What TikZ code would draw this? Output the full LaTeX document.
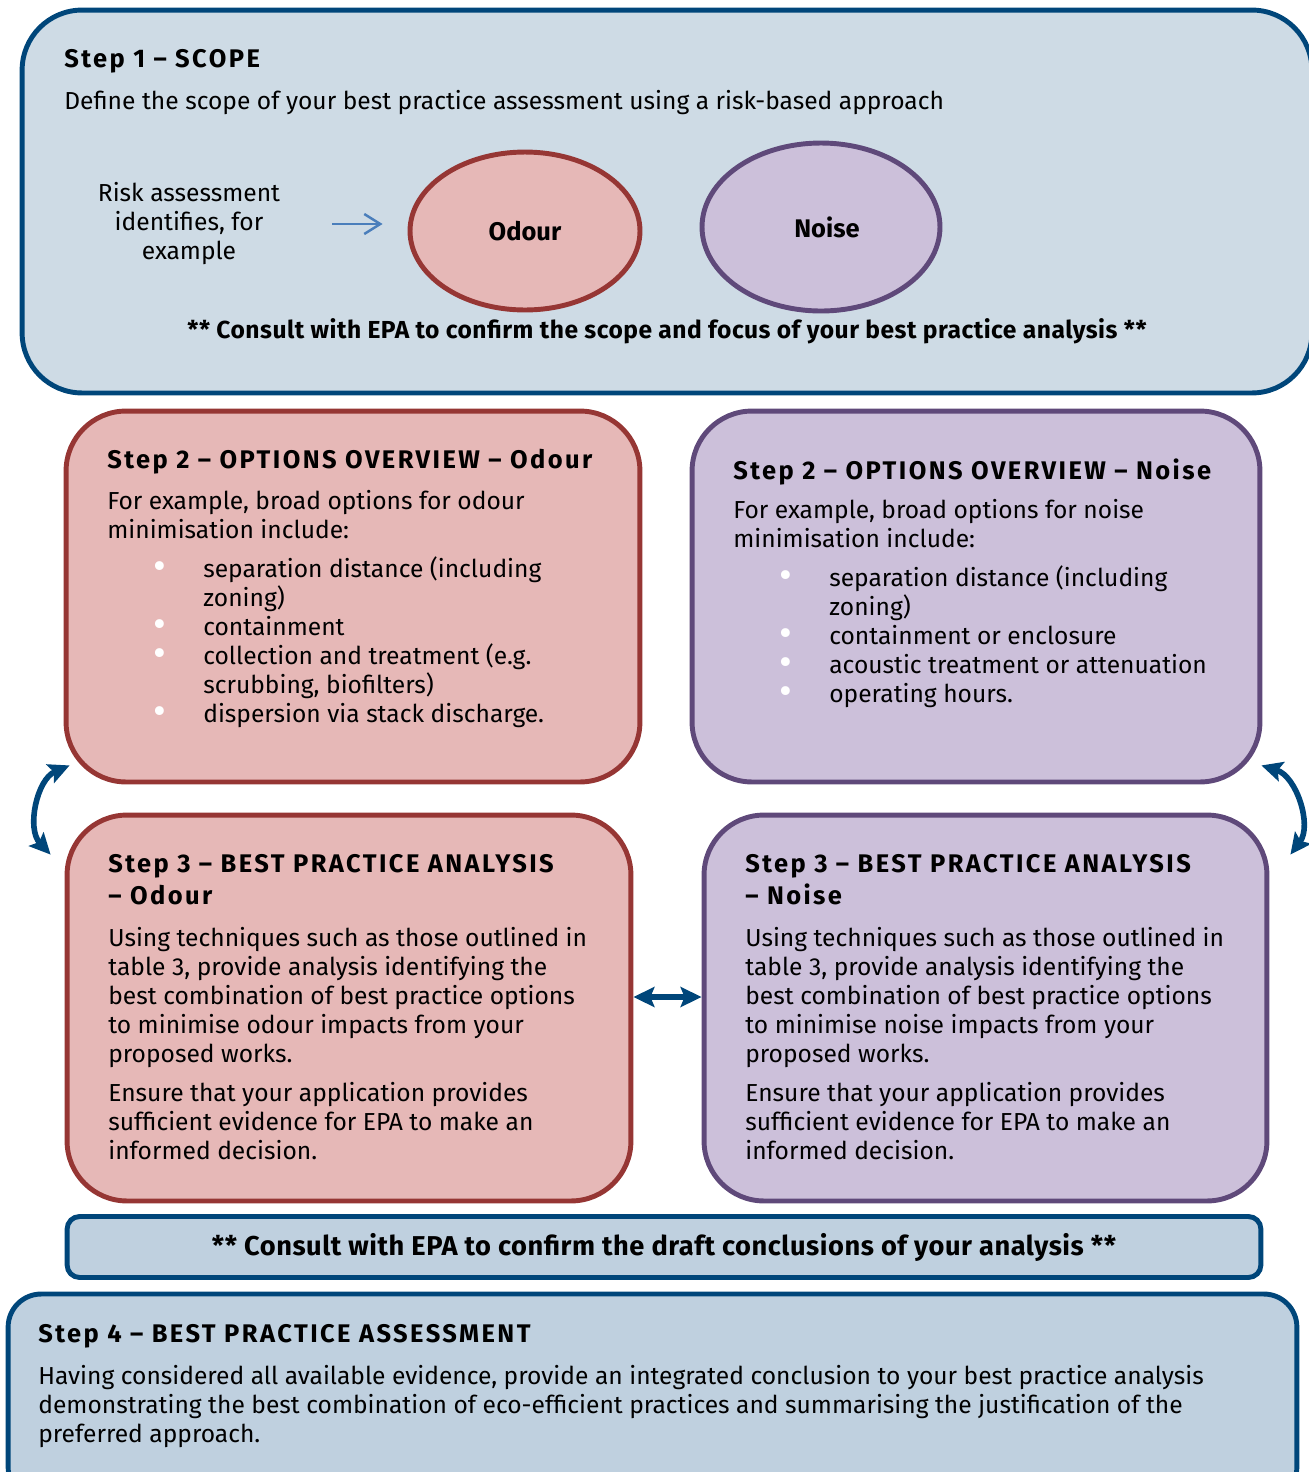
\documentclass[tikz,border=0pt]{standalone}
\usepackage{fontspec}
\setmainfont{Fira Sans}
\newfontfamily\titlefont{Fira Sans}[LetterSpace=9.5]
\newfontfamily\consultfont{Fira Sans}[LetterSpace=2]
\usetikzlibrary{positioning,calc,arrows.meta,shapes.geometric}
\pgfdeclarelayer{background}
\pgfsetlayers{background,main}
\definecolor{epablue}{HTML}{00467A}
\definecolor{scopefill}{HTML}{CEDBE5}
\definecolor{assessfill}{HTML}{BFD0DF}
\definecolor{odourfill}{HTML}{E6B8B7}
\definecolor{odourline}{HTML}{963634}
\definecolor{noisefill}{HTML}{CCC0DA}
\definecolor{noiseline}{HTML}{5F497A}
\definecolor{pointblue}{HTML}{4A7EBB}
\newcommand{\bul}{\makebox[1.92cm][l]{\hspace{0.93cm}\textcolor{white}{\smash{\raisebox{-0.1em}{\scalebox{1.6}{\textbullet}}}}}}
\newcommand{\ind}{\hspace*{1.92cm}}

\begin{document}
\begin{tikzpicture}[x=0.02cm,y=-0.02cm,
						font=\fontsize{14}{16.5}\selectfont,
						stepbox/.style={draw=epablue, line width=2.8pt, fill=scopefill, rounded corners=1.2cm, inner sep=0pt},
						odourbox/.style={stepbox, draw=odourline, fill=odourfill},
						noisebox/.style={stepbox, draw=noiseline, fill=noisefill},
						blob/.style={ellipse, line width=2.8pt, inner sep=0pt, font=\fontsize{14.5}{16}\selectfont\bfseries},
						txt/.style={anchor=north west, inner sep=0pt, align=left},
						ttl/.style={txt, font=\titlefont\fontsize{14.5}{18.2}\selectfont\bfseries},
						consult/.style={font=\consultfont\fontsize{14}{16.5}\selectfont\bfseries},
						swaparrow/.style={draw=epablue, line width=3.2pt, {Stealth[length=0.42cm,width=0.4cm,inset=0.08cm]}-{Stealth[length=0.42cm,width=0.4cm,inset=0.08cm]}},
						]
						\useasboundingbox (0,0) rectangle (1309,1472);
						%Boxes
						\node[stepbox, minimum width=25.8cm, minimum height=7.66cm]	(s1)	at (667,201.5)	{};
						\node[odourbox, minimum width=11.48cm, minimum height=7.42cm]	(s2o)	at (353,596.5)	{};
						\node[noisebox, minimum width=11.36cm, minimum height=7.42cm]	(s2n)	at (976,596.5)	{};
						\node[odourbox, minimum width=11.28cm, minimum height=7.72cm]	(s3o)	at (349,1008)	{};
						\node[noisebox, minimum width=11.26cm, minimum height=7.72cm]	(s3n)	at (985.5,1008)	{};
						\node[stepbox, fill=assessfill, rounded corners=0.25cm, minimum width=23.88cm, minimum height=1.22cm, font=\consultfont\fontsize{15.5}{16.5}\selectfont\bfseries]	(cons)	at (664,1247)	{** Consult with EPA to confirm the draft conclusions of your analysis **};
						\node[stepbox, fill=assessfill, rounded corners=0.66cm, minimum width=25.78cm, minimum height=4.12cm]	(s4)	at (652.5,1397)	{};

						%Step 1
						\node[ttl]	(t1)	at (64,49)	{Step 1 – SCOPE};
						\node[txt]	(b1)	at (64,90)	{Define the scope of your best practice assessment using a risk-based approach};
						\node[align=center, inner sep=0pt]	(risk)	at (189,224)	{Risk assessment\\identifies, for\\example};
						\node[blob, draw=odourline, fill=odourfill, minimum width=4.6cm, minimum height=3.16cm]	(odour)	at (525,231)	{Odour};
						\node[blob, draw=noiseline, fill=noisefill, minimum width=4.76cm, minimum height=3.36cm]	(noise)	at (821,227)	{\hspace{0.24cm}Noise};
						\node[consult]	(c1)	at (667,331)	{** Consult with EPA to confirm the scope and focus of your best practice analysis **};

						%Step 2
						\node[ttl]	(t2o)	at (107,449)	{Step 2 – OPTIONS OVERVIEW – Odour};
						\node[txt]	(b2o)	at (107,490)	{For example, broad options for odour\\minimisation include:\\[0.2cm]
							\bul separation distance (including\\ \ind zoning)\\ \bul containment\\ \bul collection and treatment (e.g.\\ \ind scrubbing, biofilters)\\ \bul dispersion via stack discharge.};
						\node[ttl]	(t2n)	at (733,458)	{Step 2 – OPTIONS OVERVIEW – Noise};
						\node[txt]	(b2n)	at (733,499)	{For example, broad options for noise\\minimisation include:\\[0.2cm]
							\bul separation distance (including\\ \ind zoning)\\ \bul containment or enclosure\\ \bul acoustic treatment or attenuation\\ \bul operating hours.};

						%Step 3
						\node[ttl]	(t3o)	at (108,854)	{Step 3 – BEST PRACTICE ANALYSIS\\– Odour};
						\node[txt]	(b3o)	at (108,927)	{Using techniques such as those outlined in\\table 3, provide analysis identifying the\\best combination of best practice options\\to minimise odour impacts from your\\proposed works.\\[0.2cm]
							Ensure that your application provides\\sufficient evidence for EPA to make an\\informed decision.};
						\node[ttl]	(t3n)	at (745,854)	{Step 3 – BEST PRACTICE ANALYSIS\\– Noise};
						\node[txt]	(b3n)	at (745,927)	{Using techniques such as those outlined in\\table 3, provide analysis identifying the\\best combination of best practice options\\to minimise noise impacts from your\\proposed works.\\[0.2cm]
							Ensure that your application provides\\sufficient evidence for EPA to make an\\informed decision.};

						%Step 4
						\node[ttl]	(t4)	at (38,1324)	{Step 4 – BEST PRACTICE ASSESSMENT};
						\node[txt]	(b4)	at (38,1365)	{Having considered all available evidence, provide an integrated conclusion to your best practice analysis\\demonstrating the best combination of eco-efficient practices and summarising the justification of the\\preferred approach.};

						%Lines
						\draw[pointblue, line width=1.4pt, -{Straight Barb[length=0.32cm,width=0.4cm]}, shorten <=1.04cm, shorten >=0.5cm] (risk.east) -- (risk.east -| odour.west);
						\begin{pgfonlayer}{background}
						\draw[swaparrow] ($(s3o.north west)+(-14,42)$) to[bend left=55] ($(s2o.south west)+(6,-19)$);
						\draw[swaparrow] ($(s3n.north east)+(21,42)$) to[bend right=55] ($(s2n.south east)+(-1,-19)$);
						\draw[swaparrow, line width=3.4pt] ($(s3o.east)+(0,-11)$) -- ($(s3n.west)+(0,-11)$);
						\end{pgfonlayer}
					\end{tikzpicture}
\end{document}
